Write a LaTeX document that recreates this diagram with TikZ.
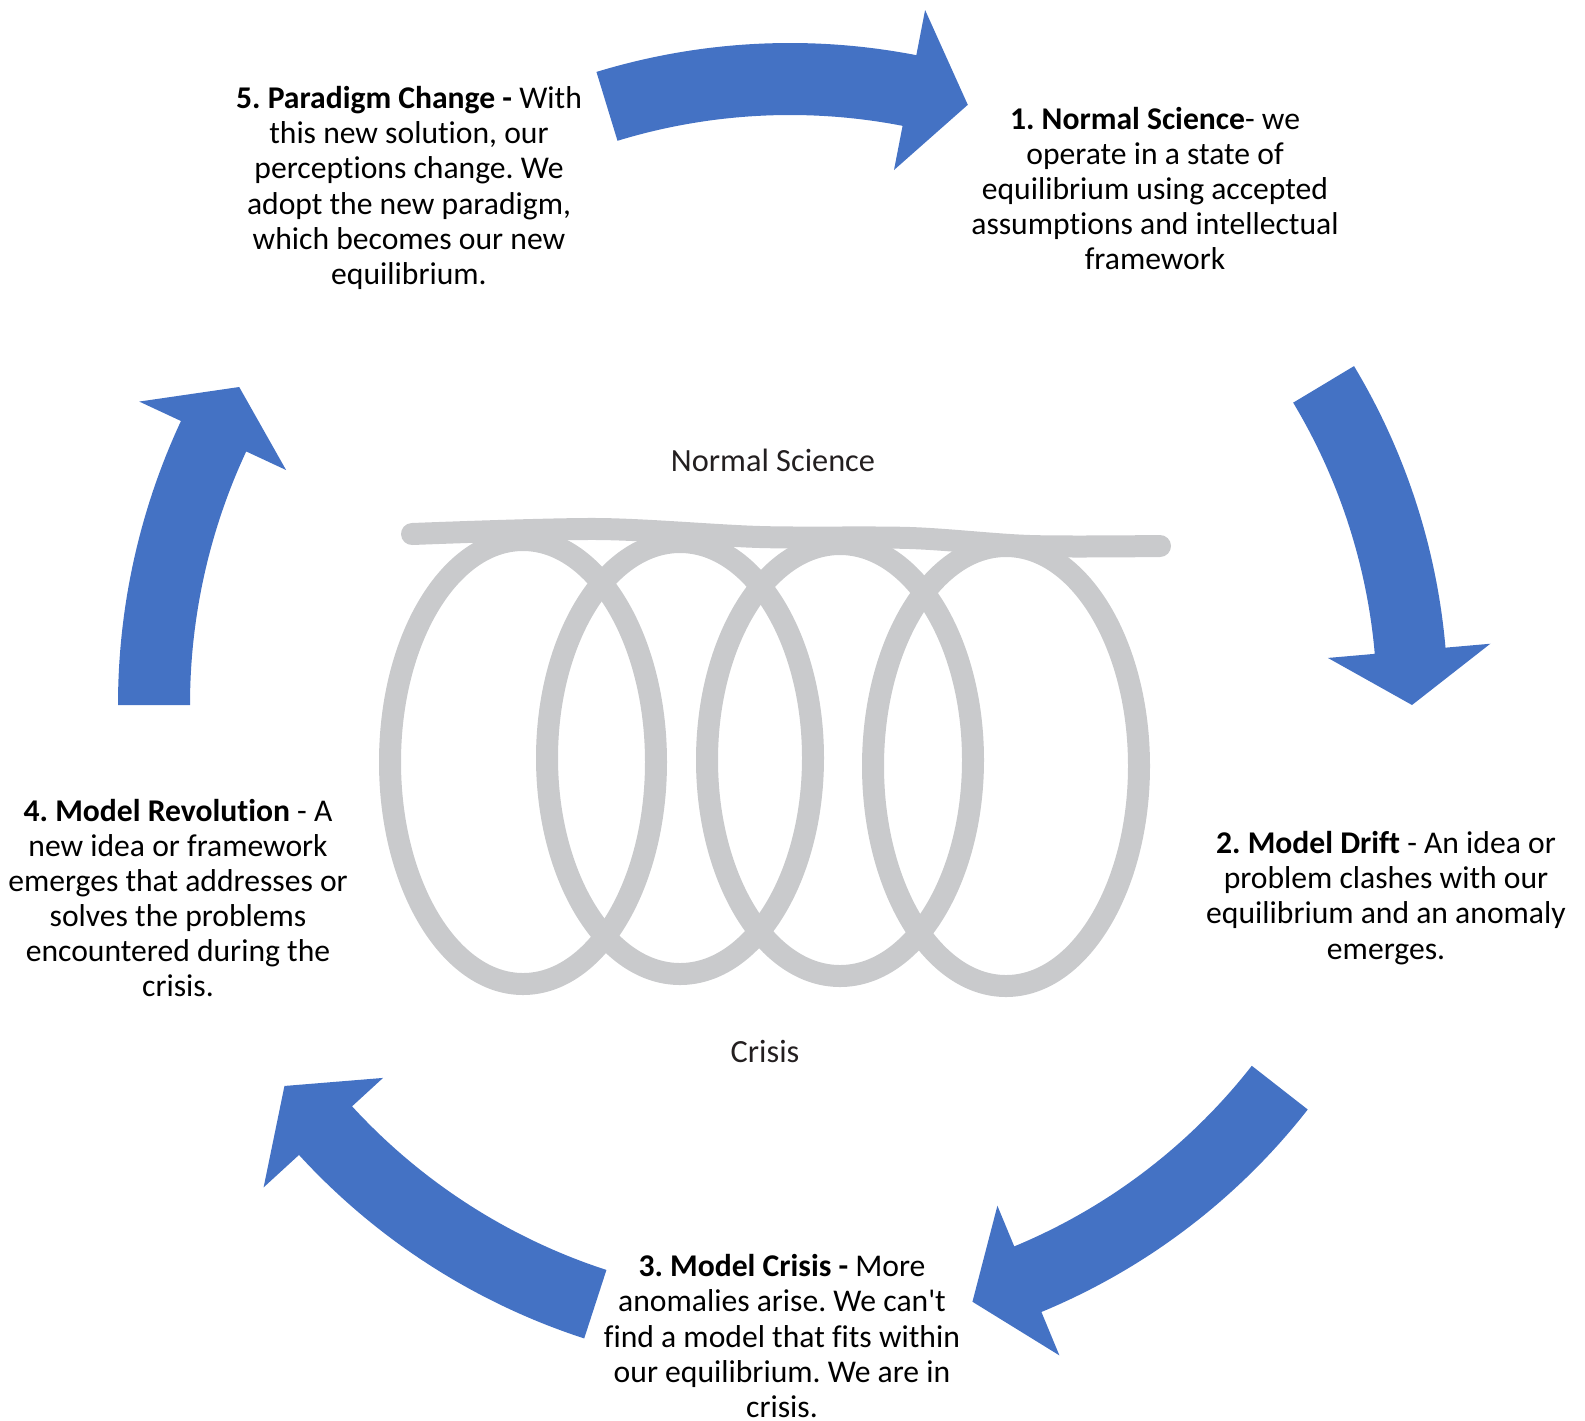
\documentclass[tikz,border=0pt]{standalone}
\usepackage{fontspec}
\setmainfont{Carlito}[Ligatures=NoCommon]
\usepackage{tikz}
\frenchspacing

\definecolor{cycleblue}{RGB}{68,114,196}
\definecolor{coilgray}{RGB}{201,202,204}
\definecolor{coilink}{RGB}{35,31,32}

\begin{document}
\begin{tikzpicture}[
		stagetext/.style={align=center, inner sep=0pt, font=\fontsize{9}{10}\selectfont},
		coillabel/.style={inner sep=0pt, text=coilink, font=\fontsize{9.2}{10}\selectfont},
		coil/.style={draw=coilgray, line width=0.22cm, line cap=round},
		bigarrow/.style={fill=cycleblue}]
				\useasboundingbox (0,0) rectangle (15.85,-14.2);
				\begin{scope}[shift={(7.90,-7.05)}]
				\fill[bigarrow] (107:6.62) arc[start angle=107, end angle=79, radius=6.62] -- (79:7.08) -- (73.5:6.26) -- (79:5.45) -- (79:5.90) arc[start angle=79, end angle=107, radius=5.90] -- cycle;
				\fill[bigarrow] (31:6.58) arc[start angle=31, end angle=5, radius=6.58] -- (5:7.03) -- (0:6.22) -- (5:5.40) -- (5:5.87) arc[start angle=5, end angle=31, radius=5.87] -- cycle;
				\fill[bigarrow] (-38:6.57) arc[start angle=-38, end angle=-67.5, radius=6.57] -- (-67.5:7.04) -- (-73:6.24) -- (-67.5:5.42) -- (-67.5:5.86) arc[start angle=-67.5, end angle=-38, radius=5.86] -- cycle;
				\fill[bigarrow] (-108:6.66) arc[start angle=-108, end angle=-137.5, radius=6.66] -- (-137.5:7.14) -- (-143:6.33) -- (-137.5:5.52) -- (-137.5:5.94) arc[start angle=-137.5, end angle=-108, radius=5.94] -- cycle;
				\fill[bigarrow] (180:6.72) arc[start angle=180, end angle=155, radius=6.72] -- (155:7.18) -- (150:6.36) -- (155:5.56) -- (155:6.00) arc[start angle=155, end angle=180, radius=6.00] -- cycle;
				\end{scope}
				\draw[coil] plot[smooth] coordinates {(4.12,-5.34) (5.98,-5.29) (7.60,-5.37) (9.10,-5.38) (10.30,-5.46) (11.60,-5.46)};
				\draw[coil] (5.23,-7.62) ellipse[x radius=1.33, y radius=2.22];
				\draw[coil] (6.80,-7.58) ellipse[x radius=1.33, y radius=2.16];
				\draw[coil] (8.40,-7.60) ellipse[x radius=1.33, y radius=2.16];
				\draw[coil] (10.06,-7.66) ellipse[x radius=1.33, y radius=2.20];
				\node[coillabel] (coiltop) at (7.73,-4.60) {Normal Science};
				\node[coillabel] (coilbot) at (7.65,-10.51) {Crisis};
				\node[stagetext] (normal) at (11.55,-1.885) {\textbf{1. Normal Science}- we\\ operate in a state of\\ equilibrium using accepted\\ assumptions and intellectual\\ framework};
				\node[stagetext] (drift) at (13.86,-8.98) {\textbf{2. Model Drift} - An idea or\\ problem clashes with our\\ equilibrium and an anomaly\\ emerges.};
				\node[stagetext] (crisis) at (7.82,-13.36) {\textbf{3. Model Crisis -} More\\ anomalies arise. We can\textquotesingle t\\ find a model that fits within\\ our equilibrium. We are in\\ crisis.};
				\node[stagetext] (revolution) at (1.78,-8.98) {\textbf{4. Model Revolution} - A\\ new idea or framework\\ emerges that addresses or\\ solves the problems\\ encountered during the\\ crisis.};
				\node[stagetext] (paradigm) at (4.09,-1.88) {\textbf{5. Paradigm Change -} With\\ this new solution, our\\ perceptions change. We\\ adopt the new paradigm,\\ which becomes our new\\ equilibrium.};
\end{tikzpicture}
\end{document}
